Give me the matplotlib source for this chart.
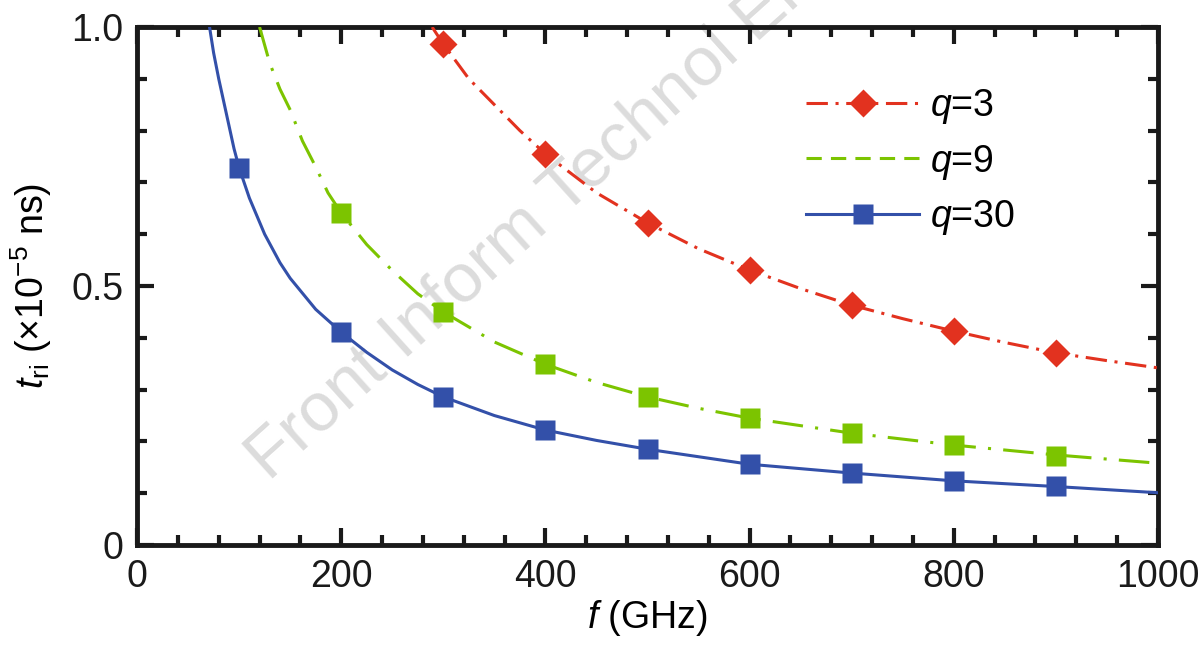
import matplotlib
matplotlib.use("Agg")
import matplotlib.pyplot as plt
from matplotlib.lines import Line2D
from matplotlib.ticker import MultipleLocator

plt.rcParams['font.family'] = ['Liberation Sans', 'DejaVu Sans']
plt.rcParams['mathtext.fontset'] = 'custom'
plt.rcParams['mathtext.rm'] = 'Liberation Sans'
plt.rcParams['mathtext.it'] = 'Liberation Sans:italic'

# marker data
f_q3 = [300, 400, 500, 600, 700, 800, 900]
t_q3 = [0.967, 0.755, 0.622, 0.531, 0.463, 0.413, 0.371]
f_q9 = [200, 300, 400, 500, 600, 700, 800, 900]
t_q9 = [0.641, 0.450, 0.349, 0.286, 0.245, 0.216, 0.193, 0.172]
f_q30 = [100, 200, 300, 400, 500, 600, 700, 800, 900]
t_q30 = [0.728, 0.411, 0.286, 0.222, 0.185, 0.156, 0.139, 0.124, 0.114]

# curve data
fl_q3 = [289, 300, 325, 350, 375, 400, 450, 500, 550, 600, 650, 700, 750, 800, 850, 900, 950, 1000]
tl_q3 = [1.0, 0.967, 0.90, 0.85, 0.80, 0.755, 0.68, 0.622, 0.572, 0.531, 0.495, 0.463, 0.437, 0.413, 0.391, 0.371, 0.356, 0.342]
fl_q9 = [120, 130, 140, 150, 162, 175, 187, 200, 225, 250, 275, 300, 350, 400, 450, 500, 550, 600, 700, 800, 900, 1000]
tl_q9 = [1.0, 0.93, 0.88, 0.84, 0.78, 0.73, 0.68, 0.641, 0.58, 0.53, 0.485, 0.450, 0.392, 0.349, 0.314, 0.286, 0.264, 0.245, 0.216, 0.193, 0.174, 0.158]
fl_q30 = [71, 75, 80, 85, 90, 95, 100, 110, 125, 140, 150, 175, 200, 225, 250, 275, 300, 350, 400, 450, 500, 600, 700, 800, 900, 1000]
tl_q30 = [1.0, 0.95, 0.90, 0.855, 0.81, 0.765, 0.728, 0.67, 0.60, 0.545, 0.515, 0.455, 0.411, 0.372, 0.338, 0.31, 0.286, 0.25, 0.222, 0.202, 0.185, 0.156, 0.139, 0.124, 0.113, 0.101]

red = '#e2321f'
green = '#7cc400'
blue = '#3350a9'

fig = plt.figure(figsize=(11.98, 6.52), dpi=100)
ax = fig.add_axes([0.1144, 0.164, 0.8522, 0.7946])

# watermark (under the curves)
ax.text(0.232, 0.245, 'Front Inform Technol Elect', fontsize=50, color='#dcdcdc',
        rotation=42, ha='left', va='bottom', zorder=1, rotation_mode='anchor',
        transform=fig.transFigure, clip_on=False)

ax.plot(fl_q3, tl_q3, color=red, lw=2.2, ls=(0, (7, 2.5, 1, 2.5)), zorder=3)
ax.plot(f_q3, t_q3, 'D', color=red, ms=14, mec='none', zorder=4)
ax.plot(fl_q9, tl_q9, color=green, lw=2.2, ls=(0, (10, 4, 1, 4)), zorder=3)
ax.plot(f_q9, t_q9, 's', color=green, ms=14, mec='none', zorder=4)
ax.plot(fl_q30, tl_q30, color=blue, lw=2.2, ls='-', zorder=3)
ax.plot(f_q30, t_q30, 's', color=blue, ms=14, mec='none', zorder=4)

ax.set_xlim(0, 1000)
ax.set_ylim(0, 1.0)
ax.set_xticks([0, 200, 400, 600, 800, 1000])
ax.set_yticks([0, 0.5, 1.0])
ax.set_yticklabels(['0', '0.5', '1.0'])
ax.xaxis.set_minor_locator(MultipleLocator(40))
ax.yaxis.set_minor_locator(MultipleLocator(0.1))
ax.tick_params(which='both', direction='in', top=True, right=True, width=3, labelsize=27, colors='#1a1a1a')
ax.tick_params(which='major', length=12, pad=10)
ax.tick_params(which='minor', length=7)
for s in ax.spines.values():
    s.set_linewidth(3.5)
    s.set_color('#1a1a1a')

ax.set_xlabel(r'$f$ (GHz)', fontsize=27, labelpad=2)
ax.set_ylabel(r'$t_{\rm ri}$ (×10$^{-5}$ ns)', fontsize=27, labelpad=12)

handles = [
    Line2D([], [], color=red, lw=2.2, ls=(0, (7, 2.5, 1, 2.5)), marker='D', ms=14, mec='none'),
    Line2D([], [], color=green, lw=2.2, ls=(0, (5, 3))),
    Line2D([], [], color=blue, lw=2.2, ls='-', marker='s', ms=14, mec='none'),
]
ax.legend(handles, [r'$q$=3', r'$q$=9', r'$q$=30'], loc='upper right',
          bbox_to_anchor=(0.893, 0.95), frameon=False, fontsize=27,
          handlelength=3.0, handletextpad=0.3, labelspacing=0.45, markerscale=1.0)

fig.savefig('out.png', dpi=100)
